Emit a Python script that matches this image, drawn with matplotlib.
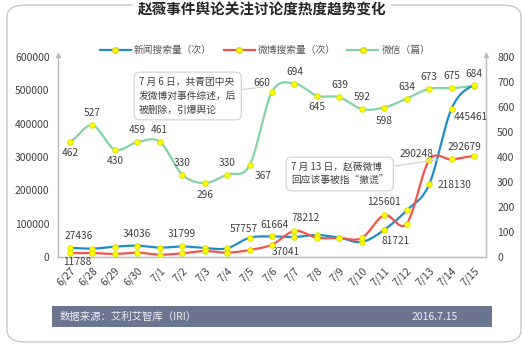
import numpy as np
import matplotlib
matplotlib.use('Agg')
import matplotlib.pyplot as plt
from matplotlib.patches import FancyBboxPatch, Rectangle
from matplotlib.lines import Line2D

plt.rcParams['font.family'] = ['Noto Sans CJK SC', 'DejaVu Sans']

dates = ['6/27', '6/28', '6/29', '6/30', '7/1', '7/2', '7/3', '7/4', '7/5', '7/6',
         '7/7', '7/8', '7/9', '7/10', '7/11', '7/12', '7/13', '7/14', '7/15']
news = [27436, 25000, 31000, 34036, 28000, 31799, 27000, 26000, 57757, 61664,
        60000, 66000, 58000, 45000, 81721, 140000, 218130, 445461, 516000]
weibo = [11788, 12000, 9000, 13000, 7000, 11000, 18000, 13000, 21000, 37041,
         78212, 58000, 57000, 57000, 125601, 100000, 290248, 292679, 303000]
wechat = [462, 527, 430, 459, 461, 330, 296, 330, 367, 660,
          694, 645, 639, 592, 598, 634, 673, 675, 684]

names = ['新闻搜索量（次）', '微博搜索量（次）', '微信（篇）']
c_news, c_weibo, c_wechat = '#1f8dc8', '#f2544c', '#82d3a5'

# which points get a value label, and offset in points
news_lbl = {0: (6, 5), 3: (0, 5), 5: (0, 5), 8: (-4, 3), 9: (2, 5), 14: (8, -12), 16: (18, -4), 17: (14, -10)}
weibo_lbl = {0: (5, -10), 9: (10, -9), 10: (8, 6), 14: (0, 6), 16: (-9, 1), 17: (9, 5)}
wechat_lbl = {0: (0, -12), 1: (0, 5), 2: (0, -12), 3: (0, 5), 4: (0, 5), 5: (0, 5), 6: (0, -12),
              7: (0, 5), 8: (10, -11), 9: (-7, 3), 10: (0, 5), 11: (0, -12), 12: (0, 5), 13: (0, 5),
              14: (0, -13), 15: (0, 5), 16: (0, 5), 17: (0, 5), 18: (0, 5)}


def smooth(y, n=24):
    y = np.asarray(y, float)
    p = np.concatenate([[y[0]], y, [y[-1]]])
    xs, ys = [], []
    for i in range(len(y) - 1):
        p0, p1, p2, p3 = p[i], p[i + 1], p[i + 2], p[i + 3]
        t = np.linspace(0, 1, n, endpoint=False)
        v = 0.5 * ((2 * p1) + (-p0 + p2) * t + (2 * p0 - 5 * p1 + 4 * p2 - p3) * t ** 2
                   + (-p0 + 3 * p1 - 3 * p2 + p3) * t ** 3)
        xs.append(i + t)
        ys.append(v)
    xs.append([len(y) - 1])
    ys.append([y[-1]])
    return np.concatenate(xs), np.concatenate(ys)


W, H = 523, 347
fig = plt.figure(figsize=(W / 100, H / 100), dpi=100)


def fx(px):
    return px / W


def fy(py):
    return 1 - py / H


# outer rounded frame
frame = FancyBboxPatch((fx(7), fy(342)), fx(514), (342 - 5) / H,
                       boxstyle='round,pad=0,rounding_size=0.035', transform=fig.transFigure,
                       fc='white', ec='#c4c4c4', lw=0.9, zorder=-5)
fig.patches.append(frame)
fig.text(fx(262), fy(10), '赵薇事件舆论关注讨论度热度趋势变化', ha='center', va='center',
         fontsize=10.5, fontweight='bold', color='#262626',
         bbox=dict(fc='white', ec='none', pad=3))

ax = fig.add_axes([fx(58), fy(257), fx(486 - 58), (257 - 57) / H])
ax2 = ax.twinx()
ax2.set_zorder(1)
ax.set_zorder(2)
x = np.arange(len(dates))

for series, col in [(news, c_news), (weibo, c_weibo)]:
    sx, sy = smooth(series)
    ax.plot(sx, sy, color=col, lw=1.6, zorder=3)
    ax.plot(x, series, ls='none', marker='o', ms=4, mfc='#ffff00', mec='#d8d800', mew=0.6, zorder=4)
sx, sy = smooth(wechat)
ax2.plot(sx, sy, color=c_wechat, lw=1.6, zorder=3)
ax2.plot(x, wechat, ls='none', marker='o', ms=4, mfc='#ffff00', mec='#d8d800', mew=0.6, zorder=4)

lbl_kw = dict(textcoords='offset points', ha='center', va='bottom', fontsize=7.3, color='#404040')
for i, off in news_lbl.items():
    ax.annotate(str(news[i]), (i, news[i]), xytext=off, **lbl_kw)
for i, off in weibo_lbl.items():
    ax.annotate(str(weibo[i]), (i, weibo[i]), xytext=off, **lbl_kw)
for i, off in wechat_lbl.items():
    ax2.annotate(str(wechat[i]), (i, wechat[i]), xytext=off, **lbl_kw)

ax.set_xlim(-0.53, 18.53)
ax.set_ylim(0, 600000)
ax2.set_ylim(0, 800)
ax.set_yticks(np.arange(0, 600001, 100000))
ax2.set_yticks(np.arange(0, 801, 100))
ax.set_xticks(x)
ax.set_xticklabels(dates, rotation=45, ha='right', va='top', rotation_mode='anchor')
for a in (ax, ax2):
    a.patch.set_visible(False)
    a.tick_params(length=0, labelsize=7.5, labelcolor='#404040')
    a.spines['top'].set_visible(False)
    for s in ('left', 'right', 'bottom'):
        a.spines[s].set_color('#bdbdbd')
        a.spines[s].set_linewidth(0.9)
ax.tick_params(axis='y', pad=6)
ax2.tick_params(axis='y', pad=8)
ax.tick_params(axis='x', pad=6)

# axis arrows
ax.plot([0], [1.01], marker='^', ms=3, color='#bdbdbd', transform=ax.transAxes, clip_on=False)
ax.plot([1], [1.01], marker='^', ms=3, color='#bdbdbd', transform=ax.transAxes, clip_on=False)

# legend
handles = [Line2D([], [], color=c, lw=1.6, marker='o', ms=4, mfc='#ffff00', mec='#d8d800')
           for c in (c_news, c_weibo, c_wechat)]
fig.legend(handles, names, loc='center', bbox_to_anchor=(fx(265), fy(50)), ncol=3,
           frameon=False, fontsize=7, handlelength=3.2, columnspacing=1.2, handletextpad=0.3,
           labelcolor='#595959')

# callouts
box_kw = dict(boxstyle='round,pad=0.5,rounding_size=0.6', fc='white', ec='#d0d0d0', lw=0.8)
ax.annotate('7 月 6 日，共青团中央\n发微博对事件综述，后\n被删除，引爆舆论', xy=(8.6, 510000),
            xytext=(fx(139), fy(96)), textcoords='figure fraction', ha='left', va='center',
            fontsize=7, color='#404040', linespacing=1.5, bbox=box_kw,
            arrowprops=dict(arrowstyle='-', color='#d0d0d0', lw=0.8,
                            shrinkA=0, shrinkB=0), zorder=6)
ax.annotate('7 月 13 日，赵薇微博\n回应该事被指“撤谎”', xy=(16.4, 292000),
            xytext=(fx(291), fy(174)), textcoords='figure fraction', ha='left', va='center',
            fontsize=7, color='#404040', linespacing=1.5, bbox=box_kw,
            arrowprops=dict(arrowstyle='-', color='#d0d0d0', lw=0.8,
                            shrinkA=0, shrinkB=0), zorder=6)

# source bar
fig.patches.append(Rectangle((fx(52), fy(327)), fx(440), (327 - 306) / H,
                             transform=fig.transFigure, fc='#6b7590', ec='none'))
fig.text(fx(60), fy(316.5), '数据来源：艾利艾智库（IRI）', ha='left', va='center',
         fontsize=7.5, color='#eef0f5')
fig.text(fx(435), fy(316.5), '2016.7.15', ha='center', va='center',
         fontsize=7.5, color='#eef0f5')

fig.savefig('out.png', dpi=100)
